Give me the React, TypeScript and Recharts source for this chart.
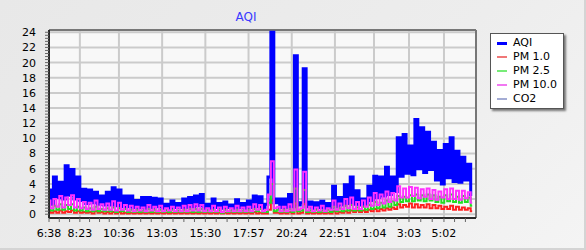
import { LineChart, Line, XAxis, YAxis, CartesianGrid, Legend, ReferenceLine } from "recharts";

// samples every 10 min, first one at 6:38 (minutes since midnight of day one)
const SAMPLE_START = 398;
const SAMPLE_STEP = 10;

const aqi = [
  3.2, 1.3, 4.9, 2.2, 4.2, 2.0, 6.4, 2.5, 5.9, 2.0,
  4.9, 1.8, 3.3, 1.4, 3.2, 1.5, 2.9, 1.3, 2.4, 1.2,
  2.9, 1.2, 3.5, 1.1, 3.2, 1.0, 2.4, 1.0, 2.4, 0.9,
  1.8, 0.9, 2.2, 0.8, 2.2, 0.9, 2.1, 1.0, 2.0, 0.8,
  1.3, 0.8, 1.75, 0.9, 1.4, 0.9, 2.0, 0.9, 2.2, 1.0,
  2.4, 1.1, 2.6, 0.8, 1.3, 0.8, 2.0, 0.9, 1.4, 0.8,
  1.6, 0.9, 1.2, 0.8, 1.9, 0.9, 1.4, 0.8, 1.75, 0.9,
  2.4, 1.0, 2.3, 0.8, 1.3, 4.9, 24.0, 1.5, 2.0, 0.9,
  2.0, 0.9, 2.6, 1.0, 20.9, 1.2, 1.5, 19.2, 1.0, 1.6,
  0.8, 1.5, 0.9, 1.7, 0.8, 1.4, 0.9, 3.7, 1.0, 2.2,
  1.2, 3.9, 1.4, 4.9, 1.3, 3.1, 1.2, 2.0, 1.3, 3.7,
  1.8, 5.0, 2.2, 4.9, 2.4, 6.2, 2.6, 4.9, 3.0, 10.1,
  5.0, 10.5, 5.4, 9.0, 5.2, 12.5, 6.0, 11.4, 5.5, 10.8,
  5.9, 9.5, 4.5, 8.4, 4.0, 9.2, 4.8, 10.1, 4.3, 8.3,
  4.2, 7.5, 4.5, 6.6, 2.6,
];

const pm1 = [
  0.4, 0.2, 0.4, 0.2, 0.5, 0.2, 0.4, 0.3, 0.5, 0.2,
  0.4, 0.2, 0.3, 0.2, 0.3, 0.1, 0.4, 0.2, 0.3, 0.1,
  0.3, 0.1, 0.3, 0.1, 0.3, 0.1, 0.2, 0.1, 0.2, 0.1,
  0.2, 0.1, 0.2, 0.1, 0.2, 0.1, 0.2, 0.1, 0.2, 0.1,
  0.2, 0.1, 0.2, 0.1, 0.2, 0.1, 0.2, 0.1, 0.2, 0.1,
  0.2, 0.1, 0.2, 0.1, 0.2, 0.1, 0.2, 0.1, 0.2, 0.1,
  0.2, 0.1, 0.2, 0.1, 0.2, 0.1, 0.2, 0.1, 0.2, 0.1,
  0.3, 0.1, 0.2, 0.1, 0.1, 0.6, 1.8, 0.2, 0.2, 0.1,
  0.2, 0.1, 0.3, 0.1, 1.4, 0.1, 0.2, 1.3, 0.1, 0.2,
  0.1, 0.2, 0.1, 0.2, 0.1, 0.2, 0.1, 0.4, 0.1, 0.3,
  0.2, 0.4, 0.2, 0.5, 0.3, 0.5, 0.3, 0.5, 0.3, 0.6,
  0.4, 0.7, 0.4, 0.7, 0.5, 0.8, 0.6, 0.9, 0.7, 1.3,
  0.9, 1.2, 1.0, 1.4, 0.9, 1.3, 0.9, 1.2, 0.9, 1.3,
  0.8, 1.2, 0.8, 1.1, 0.7, 1.0, 0.7, 1.1, 0.6, 1.0,
  0.6, 0.9, 0.6, 0.8, 0.4,
];

const pm25 = [
  0.9, 0.5, 1.1, 0.6, 1.3, 0.6, 1.2, 0.7, 1.3, 0.5,
  1.0, 0.5, 0.9, 0.4, 0.8, 0.4, 1.0, 0.4, 0.7, 0.4,
  0.8, 0.4, 0.9, 0.3, 0.8, 0.4, 0.7, 0.3, 0.6, 0.3,
  0.6, 0.3, 0.5, 0.3, 0.7, 0.3, 0.6, 0.3, 0.6, 0.3,
  0.5, 0.3, 0.6, 0.3, 0.5, 0.3, 0.6, 0.3, 0.7, 0.3,
  0.7, 0.3, 0.7, 0.3, 0.5, 0.3, 0.6, 0.3, 0.5, 0.2,
  0.6, 0.3, 0.5, 0.3, 0.6, 0.3, 0.5, 0.3, 0.6, 0.3,
  0.7, 0.4, 0.7, 0.3, 0.3, 1.5, 4.0, 0.4, 0.6, 0.3,
  0.6, 0.3, 0.7, 0.3, 3.4, 0.4, 0.5, 3.2, 0.3, 0.5,
  0.3, 0.6, 0.3, 0.5, 0.3, 0.6, 0.3, 1.0, 0.4, 0.8,
  0.4, 1.1, 0.5, 1.2, 0.5, 0.9, 0.5, 1.0, 0.6, 1.2,
  0.7, 1.6, 0.8, 1.5, 0.9, 1.8, 1.0, 1.7, 1.2, 2.4,
  1.6, 2.3, 1.7, 2.5, 1.7, 2.6, 1.8, 2.5, 1.7, 2.6,
  1.8, 2.5, 1.6, 2.3, 1.5, 2.5, 1.7, 2.6, 1.6, 2.3,
  1.5, 2.4, 1.6, 2.2, 1.1,
];

const pm10 = [
  1.8, 0.8, 2.0, 1.0, 2.4, 0.9, 2.2, 1.2, 2.5, 0.9,
  2.0, 0.8, 1.6, 0.7, 1.5, 0.6, 1.8, 0.7, 1.3, 0.6,
  1.4, 0.6, 1.7, 0.5, 1.5, 0.6, 1.2, 0.5, 1.1, 0.4,
  1.0, 0.5, 0.9, 0.4, 1.2, 0.5, 1.0, 0.4, 1.1, 0.4,
  0.8, 0.5, 1.0, 0.4, 0.9, 0.4, 1.1, 0.4, 1.2, 0.5,
  1.3, 0.5, 1.2, 0.4, 0.8, 0.4, 1.1, 0.4, 0.9, 0.3,
  1.0, 0.4, 0.8, 0.4, 1.1, 0.4, 0.9, 0.4, 1.0, 0.4,
  1.3, 0.6, 1.2, 0.4, 0.6, 2.6, 7.0, 0.8, 1.0, 0.4,
  1.0, 0.4, 1.3, 0.5, 5.9, 0.6, 0.8, 5.6, 0.5, 1.0,
  0.4, 0.9, 0.5, 1.1, 0.4, 0.8, 0.6, 1.8, 0.6, 1.4,
  0.7, 2.0, 0.8, 2.2, 0.7, 1.6, 0.7, 1.8, 1.0, 2.2,
  1.1, 2.8, 1.2, 2.6, 1.4, 3.0, 1.6, 2.8, 1.8, 3.7,
  2.2, 3.4, 2.2, 3.6, 2.4, 3.5, 2.1, 3.3, 2.3, 3.4,
  2.0, 3.2, 1.9, 3.0, 2.2, 3.3, 2.0, 3.4, 2.0, 3.1,
  1.9, 3.1, 2.1, 2.9, 1.5,
];

const timeTicks = [398, 503, 636, 783, 930, 1077, 1224, 1371, 1504, 1623, 1742];
const timeLabels = ["6:38", "8:23", "10:36", "13:03", "15:30", "17:57", "20:24", "22:51", "1:04", "3:03", "5:02"];
const valueTicks = [0, 2, 4, 6, 8, 10, 12, 14, 16, 18, 20, 22, 24];

const X_END = 1851;
const Y_MIN = -0.5;
const Y_MAX = 24.3;

const series = [
  { key: "aqi", name: "AQI", color: "#0000ff", legend: "#0000ff", width: 3, icon: 3 },
  { key: "pm1", name: "PM 1.0", color: "#ff2020", legend: "#f07878", width: 2, icon: 2 },
  { key: "pm25", name: "PM 2.5", color: "#22dd22", legend: "#78ec78", width: 2, icon: 2 },
  { key: "pm10", name: "PM 10.0", color: "#ff30ff", legend: "#f278f2", width: 2, icon: 2 },
  { key: "co2", name: "CO2", color: "#98a4d0", legend: "#a4acd4", width: 2, icon: 2 },
];

const data = aqi.map((v, i) => ({
  t: SAMPLE_START + i * SAMPLE_STEP,
  aqi: v,
  pm1: pm1[i],
  pm25: pm25[i],
  pm10: pm10[i],
}));

// small ticks between the labelled ones
const xMinor: number[] = [];
timeTicks.forEach((a, k) => {
  const b = k + 1 < timeTicks.length ? timeTicks[k + 1] : X_END;
  const n = Math.max(1, Math.round((b - a) / 36));
  for (let j = 1; j < n; j++) xMinor.push(Math.round(a + ((b - a) * j) / n));
});
const xAllTicks = [...timeTicks, ...xMinor].sort((a, b) => a - b);

const yAllTicks: number[] = [];
for (let i = 0; i <= 60; i++) yAllTicks.push(Math.round(i * 4) / 10);

const font = "'DejaVu Sans', Verdana, sans-serif";
const axisText = { fontSize: 11, fill: "#000", fontFamily: font };

function LegendBox() {
  return (
    <div
      style={{
        boxSizing: "border-box",
        width: 74,
        height: 76,
        background: "#fff",
        border: "1px solid #555",
        boxShadow: "2px 2px 2px #777",
        padding: "2px 0 0 6px",
        fontFamily: font,
        fontSize: 11,
        color: "#000",
      }}
    >
      {series.map((s) => (
        <div key={s.key} style={{ display: "flex", alignItems: "center", height: 14 }}>
          <span style={{ display: "inline-block", width: 10, height: s.icon, background: s.legend, marginRight: 6 }} />
          <span style={{ lineHeight: "14px" }}>{s.name}</span>
        </div>
      ))}
    </div>
  );
}

export default function App() {
  return (
    <div
      style={{
        position: "fixed",
        left: 0,
        top: 0,
        width: 586,
        height: 250,
        boxSizing: "border-box",
        background: "linear-gradient(135deg, #e8e8e8 0%, #ededed 60%, #f4f4f4 100%)",
        borderRight: "2px solid #d4d4d4",
        borderBottom: "2px solid #d4d4d4",
      }}
    >
      <div
        style={{
          position: "absolute",
          left: 196,
          width: 100,
          top: 10,
          textAlign: "center",
          fontFamily: font,
          fontSize: 12,
          color: "#3a3aff",
        }}
      >
        AQI
      </div>
      <LineChart width={586} height={250} data={data} margin={{ top: 30, right: 110, left: 0, bottom: 0 }}>
        <CartesianGrid
          stroke="#cbcbcb"
          strokeWidth={2}
          fill="#f8f8f8"
          verticalValues={timeTicks}
          horizontalValues={valueTicks}
        />
        <XAxis
          dataKey="t"
          type="number"
          domain={[SAMPLE_START, X_END]}
          allowDataOverflow
          ticks={xAllTicks}
          interval={0}
          tickFormatter={(t: number) => {
            const k = timeTicks.indexOf(t);
            return k >= 0 ? timeLabels[k] : "";
          }}
          height={32}
          tick={axisText}
          tickSize={4}
          tickMargin={7}
          tickLine={{ stroke: "#666" }}
          axisLine={{ stroke: "#2a2a2a", strokeWidth: 2 }}
        />
        <YAxis
          type="number"
          domain={[Y_MIN, Y_MAX]}
          allowDataOverflow
          ticks={yAllTicks}
          interval={0}
          tickFormatter={(v: number) => (valueTicks.includes(v) ? String(v) : "")}
          width={49}
          tick={axisText}
          tickSize={4}
          tickMargin={9}
          tickLine={{ stroke: "#666" }}
          axisLine={{ stroke: "#2a2a2a", strokeWidth: 2 }}
        />
        <ReferenceLine y={Y_MAX} stroke="#777" strokeWidth={2} />
        <ReferenceLine x={X_END} stroke="#777" strokeWidth={2} />
        {series.map((s) => (
          <Line
            key={s.key}
            type="step"
            dataKey={s.key}
            name={s.name}
            stroke={s.color}
            strokeWidth={s.width}
            dot={false}
            activeDot={false}
            isAnimationActive={false}
          />
        ))}
        <Legend
          layout="vertical"
          align="center"
          verticalAlign="middle"
          wrapperStyle={{ left: 490, top: 33, width: 74 }}
          content={() => <LegendBox />}
        />
      </LineChart>
    </div>
  );
}
